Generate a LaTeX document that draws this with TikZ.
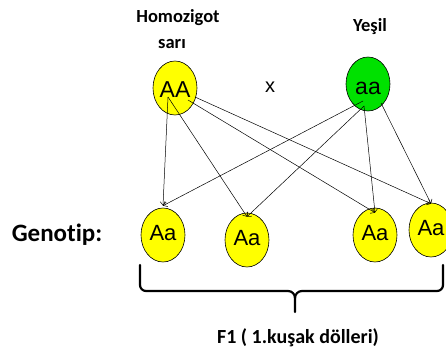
\documentclass[tikz,border=0pt]{standalone}
\usepackage{fontspec}
\setmainfont[Ligatures=NoCommon]{Carlito}
\newfontfamily\arl{Liberation Sans}
\usetikzlibrary{shapes.geometric,arrows.meta}
\definecolor{yel}{RGB}{255,255,0}
\definecolor{grn}{RGB}{0,225,0}
\tikzset{
  ball/.style={ellipse,draw=black,line width=0.6pt,fill=yel,minimum width=44pt,minimum height=54pt,inner sep=0pt,
    font=\arl\fontsize{23}{23}\selectfont,text height=18.5pt,text depth=0pt},
  gball/.style={ball,fill=grn,text height=20pt},
  kid/.style={ball,font=\arl\fontsize{22}{22}\selectfont,text height=11pt},
  lbl/.style={anchor=base,font=\bfseries\fontsize{18.5}{18.5}\selectfont,inner sep=0pt},
  conn/.style={line width=0.5pt,-{Straight Barb[length=3.5pt,width=6pt]}},
  bracepath/.style={line width=2.2pt,line cap=round}
}
\begin{document}
\begin{tikzpicture}[x=1pt,y=-1pt]
\useasboundingbox (0,0) rectangle (446,351);
% labels
\node[lbl] (hom) at (178,22) {Homozigot};
\node[lbl] (sari) at (172,48) {sar\i};
\node[lbl] (yes) at (370,31) {Yeşil};
\node[lbl,font=\bfseries\fontsize{25}{25}\selectfont] (gen) at (57,241) {Genotip:};
\node[lbl,font=\bfseries\fontsize{20}{20}\selectfont] (f1) at (298,343) {F1 ( 1.kuşak dölleri)};
\node[font=\arl\fontsize{20}{20}\selectfont,inner sep=0pt] (x) at (270,87) {x};
% parents
\node[ball] (AA) at (175,88) {AA};
\node[gball] (aa) at (368,84) {aa};
% children
\node[kid] (c1) at (163,235) {Aa};
\node[kid] (c2) at (247,240) {Aa};
\node[kid] (c3) at (375,235) {Aa};
\node[kid] (c4) at (431,230) {Aa};
% start points
\coordinate (p1) at (168,97);
\coordinate (p2) at (188,100);
\coordinate (p3) at (195,97);
\coordinate (q1) at (363,101);
\coordinate (q2) at (364,106);
\coordinate (q3) at (381,103);
% connectors
\draw[conn] (p1) -- ([yshift=2pt]c1.north);
\draw[conn] (p1) -- ([yshift=-4pt]c2.north);
\draw[conn] (p2) -- ([yshift=-5pt]c3.north);
\draw[conn] (p3) -- ([yshift=-1pt]c4.north);
\draw[conn] (q1) -- ([yshift=2pt]c1.north);
\draw[conn] (q2) -- ([yshift=-4pt]c2.north);
\draw[conn] (q2) -- ([yshift=-5pt]c3.north);
\draw[conn] (q3) -- ([yshift=-1pt]c4.north);
% brace
\draw[bracepath] (140,265) -- (140,285) to[out=-90,in=180] (146,291) -- (288,291) to[out=0,in=90] (295,298) -- (295,312);
\draw[bracepath] (295,298) to[out=90,in=180] (302,291) -- (437,291) to[out=0,in=-90] (443,285) -- (443,265);
\end{tikzpicture}
\end{document}
